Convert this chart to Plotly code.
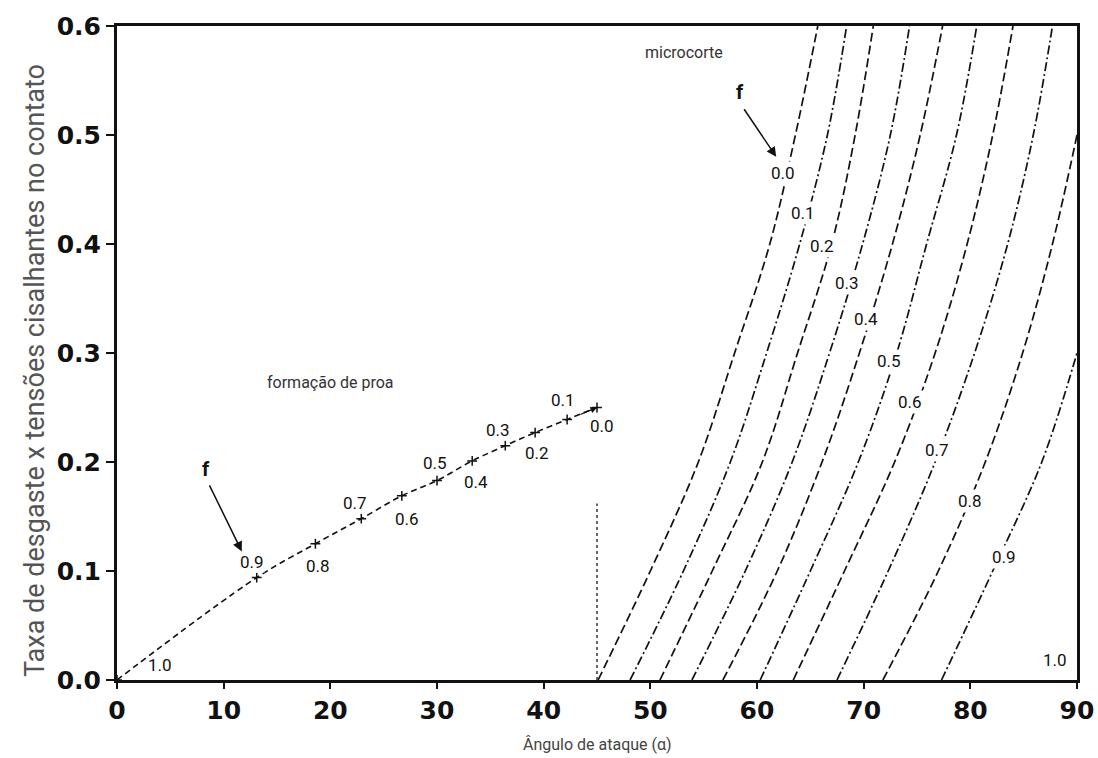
import plotly.graph_objects as go

# ---------------- data ----------------
# Right family (microcorte): x positions of each f-curve at fixed y levels
y_levels = [0.0, 0.1, 0.2, 0.3, 0.4, 0.5, 0.6]
f_labels_right = ["0.0", "0.1", "0.2", "0.3", "0.4", "0.5", "0.6", "0.7", "0.8", "0.9", "1.0"]
x_f00 = [45.1, 50.0, 54.5, 57.9, 61.2, 63.6, 65.7]
x_f01 = [48.1, 53.1, 57.5, 60.9, 64.0, 66.6, 68.4]
x_f02 = [50.9, 55.8, 60.5, 63.8, 67.0, 69.2, 70.9]
x_f03 = [53.9, 58.9, 63.3, 66.8, 69.9, 72.5, 74.3]
x_f04 = [56.8, 61.9, 66.1, 69.6, 72.7, 75.3, 77.4]
x_f05 = [60.3, 65.0, 69.5, 73.1, 75.9, 78.7, 80.6]
x_f06 = [63.4, 68.2, 72.9, 76.7, 79.7, 82.1, 84.0]
x_f07 = [67.5, 72.3, 76.7, 80.4, 83.5, 85.9, 87.7]
x_f08 = [71.8, 77.0, 81.4, 84.9, 87.7, 90.0]
x_f09 = [77.3, 82.1, 86.7, 90.0]

# Left curve (formação de proa): f from 1.0 down to 0.0
f_labels_left = ["1.0", "0.9", "0.8", "0.7", "0.6", "0.5", "0.4", "0.3", "0.2", "0.1", "0.0"]
x_proa = [0.0, 13.1, 18.6, 22.9, 26.7, 30.0, 33.3, 36.4, 39.2, 42.2, 45.0]
y_proa = [0.0, 0.094, 0.125, 0.148, 0.169, 0.183, 0.201, 0.215, 0.227, 0.239, 0.250]

# vertical dotted boundary at alpha = 45
x_bound = [45.0, 45.0]
y_bound = [0.0, 0.162]

x_ticks = [0, 10, 20, 30, 40, 50, 60, 70, 80, 90]
y_ticks = [0.0, 0.1, 0.2, 0.3, 0.4, 0.5, 0.6]
y_ticktext = ["0.0", "0.1", "0.2", "0.3", "0.4", "0.5", "0.6"]

# ---------------- figure ----------------
fig = go.Figure()

right_curves = [x_f00, x_f01, x_f02, x_f03, x_f04, x_f05, x_f06, x_f07, x_f08, x_f09]
dashes = ["9px,4px", "9px,3px,2px,3px"]
for i, xs in enumerate(right_curves):
    fig.add_trace(go.Scatter(
        x=xs, y=y_levels[:len(xs)], mode="lines",
        line=dict(color="#111", width=1.7, dash=dashes[i % 2], shape="spline", smoothing=1.0),
        showlegend=False, hoverinfo="skip"))

fig.add_trace(go.Scatter(
    x=x_proa, y=y_proa, mode="lines+markers",
    line=dict(color="#111", width=1.6, dash="6px,4px", shape="spline"),
    marker=dict(symbol="cross-thin", size=7, line=dict(color="#111", width=1.5)),
    showlegend=False, hoverinfo="skip"))

fig.add_trace(go.Scatter(
    x=x_bound, y=y_bound, mode="lines",
    line=dict(color="#333", width=1.5, dash="dot"),
    showlegend=False, hoverinfo="skip"))

# label positions (layout)
right_pos = [(62.4, 0.465), (64.3, 0.428), (66.1, 0.398), (68.4, 0.364), (70.2, 0.331),
             (72.4, 0.293), (74.3, 0.255), (76.9, 0.211), (80.0, 0.164), (83.2, 0.113),
             (87.9, 0.0185)]
left_pos = [(4.0, 0.014), (12.7, 0.108), (18.8, 0.105), (22.3, 0.162), (27.2, 0.148),
            (29.8, 0.199), (33.7, 0.182), (35.7, 0.229), (39.4, 0.208), (41.8, 0.257),
            (45.5, 0.233)]

lab_font = dict(family="Roboto", size=17, color="#111")
for t, (x, y) in zip(f_labels_right, right_pos):
    fig.add_annotation(x=x, y=y, text=t, showarrow=False, font=lab_font,
                       bgcolor="white", borderpad=1)
for t, (x, y) in zip(f_labels_left, left_pos):
    fig.add_annotation(x=x, y=y, text=t, showarrow=False, font=lab_font,
                       bgcolor="white" if t != "1.0" else "rgba(0,0,0,0)", borderpad=0)

# f arrows
for (tx, ty), (hx, hy) in [((8.3, 0.194), (11.7, 0.118)), ((58.4, 0.539), (61.8, 0.48))]:
    fig.add_annotation(x=hx, y=hy, ax=tx + 0.3, ay=ty - 0.014, axref="x", ayref="y",
                       text="", showarrow=True, arrowhead=2, arrowsize=1.3,
                       arrowwidth=1.5, arrowcolor="#111")
    fig.add_annotation(x=tx, y=ty, text="<b>f</b>", showarrow=False,
                       font=dict(family="Roboto", size=20, color="#111"))

# arrow tip at end of proa curve
fig.add_annotation(x=45.0, y=0.250, ax=43.3, ay=0.243, axref="x", ayref="y",
                   text="", showarrow=True, arrowhead=2, arrowsize=1,
                   arrowwidth=1.3, arrowcolor="#111")

fig.add_annotation(x=53.2, y=0.576, text="microcorte", showarrow=False,
                   font=dict(family="Roboto", size=16, color="#333"))
fig.add_annotation(x=20.0, y=0.273, text="formação de proa", showarrow=False,
                   font=dict(family="Roboto", size=16, color="#333"))

# axis titles
fig.add_annotation(x=-0.0854, y=0.4725, xref="paper", yref="paper",
                   xanchor="center", yanchor="middle",
                   text="Taxa de desgaste x tensões cisalhantes no contato",
                   textangle=-90, showarrow=False,
                   font=dict(family="Roboto", size=27, color="#555"))
fig.add_annotation(x=0.501, y=-0.099, xref="paper", yref="paper",
                   xanchor="center", yanchor="middle",
                   text="Ângulo de ataque (α)", showarrow=False,
                   font=dict(family="Roboto", size=16, color="#444"))

tick_font = dict(family="DejaVu Sans", size=25, color="#111", weight="bold")
fig.update_xaxes(range=[0, 90], tickvals=x_ticks, ticks="outside", ticklen=6,
                 tickwidth=2, tickcolor="#111", showline=True, linewidth=3,
                 linecolor="#111", mirror=True, showgrid=False, zeroline=False,
                 tickfont=tick_font, automargin=False)
fig.update_yaxes(range=[0, 0.6], tickvals=y_ticks, ticktext=y_ticktext,
                 ticks="outside", ticklen=8, tickwidth=2, tickcolor="#111",
                 showline=True, linewidth=3, linecolor="#111", mirror=True,
                 showgrid=False, zeroline=False, tickfont=tick_font, automargin=False)

fig.update_layout(width=1098, height=758, plot_bgcolor="white", paper_bgcolor="white",
                  margin=dict(l=117, r=21, t=26, b=78))

fig.write_html("out.html", config={"displayModeBar": False},
               post_script="document.body.style.margin='0';document.body.style.overflow='hidden';")
